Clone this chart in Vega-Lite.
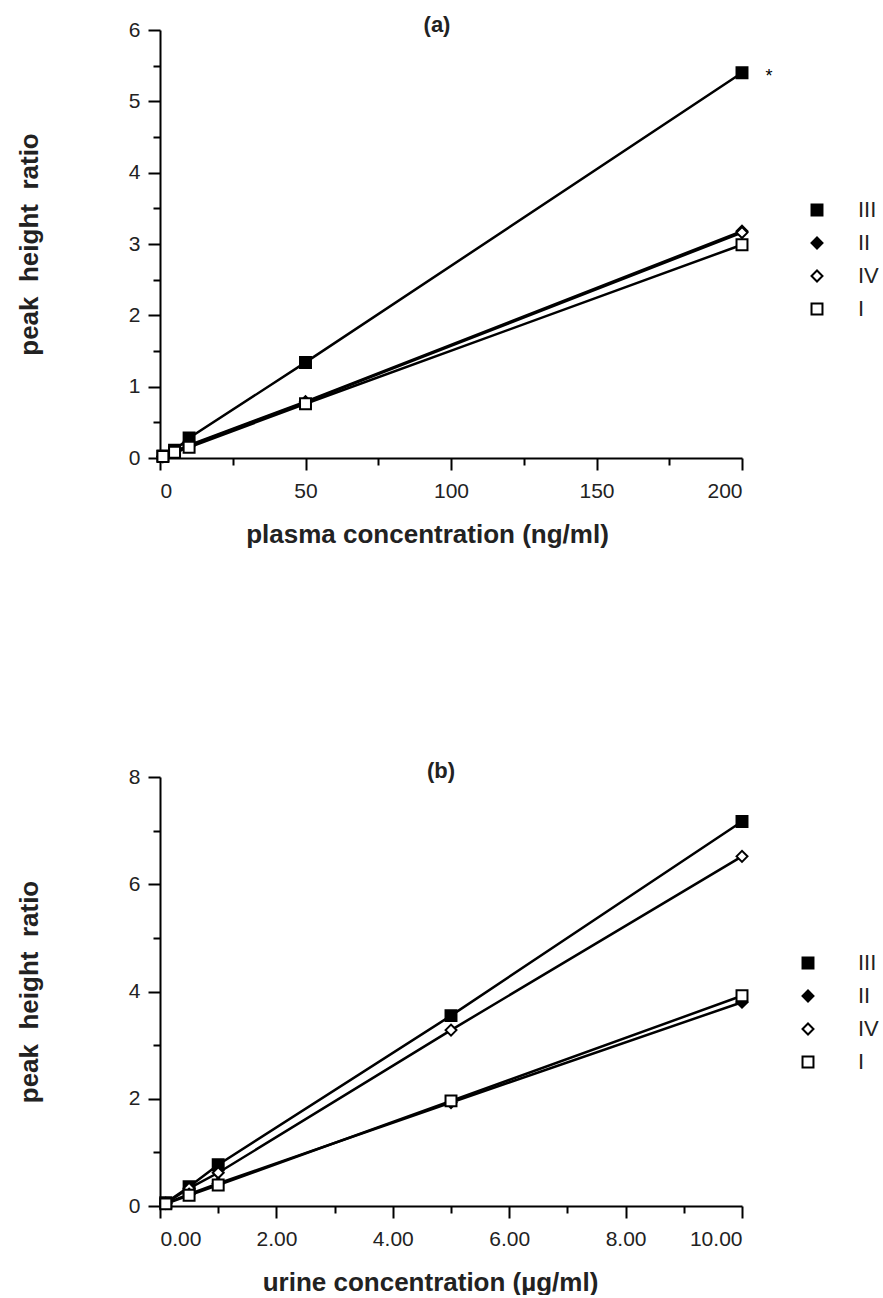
{
  "$schema": "https://vega.github.io/schema/vega-lite/v6.json",
  "background": "white",
  "padding": {"left": 16, "top": 14, "right": 0, "bottom": 0},
  "datasets": {
    "a": [
      {"conc": 1, "ratio": 0.03, "series": "III"},
      {"conc": 5, "ratio": 0.11, "series": "III"},
      {"conc": 10, "ratio": 0.28, "series": "III"},
      {"conc": 50, "ratio": 1.34, "series": "III"},
      {"conc": 200, "ratio": 5.40, "series": "III"},
      {"conc": 1, "ratio": 0.02, "series": "II"},
      {"conc": 5, "ratio": 0.09, "series": "II"},
      {"conc": 10, "ratio": 0.18, "series": "II"},
      {"conc": 50, "ratio": 0.79, "series": "II"},
      {"conc": 200, "ratio": 3.18, "series": "II"},
      {"conc": 1, "ratio": 0.02, "series": "IV"},
      {"conc": 5, "ratio": 0.09, "series": "IV"},
      {"conc": 10, "ratio": 0.17, "series": "IV"},
      {"conc": 50, "ratio": 0.78, "series": "IV"},
      {"conc": 200, "ratio": 3.16, "series": "IV"},
      {"conc": 1, "ratio": 0.02, "series": "I"},
      {"conc": 5, "ratio": 0.08, "series": "I"},
      {"conc": 10, "ratio": 0.15, "series": "I"},
      {"conc": 50, "ratio": 0.76, "series": "I"},
      {"conc": 200, "ratio": 2.99, "series": "I"}
    ],
    "b": [
      {"conc": 0.1, "ratio": 0.06, "series": "III"},
      {"conc": 0.5, "ratio": 0.36, "series": "III"},
      {"conc": 1, "ratio": 0.77, "series": "III"},
      {"conc": 5, "ratio": 3.55, "series": "III"},
      {"conc": 10, "ratio": 7.17, "series": "III"},
      {"conc": 0.1, "ratio": 0.05, "series": "IV"},
      {"conc": 0.5, "ratio": 0.33, "series": "IV"},
      {"conc": 1, "ratio": 0.62, "series": "IV"},
      {"conc": 5, "ratio": 3.28, "series": "IV"},
      {"conc": 10, "ratio": 6.52, "series": "IV"},
      {"conc": 0.1, "ratio": 0.05, "series": "II"},
      {"conc": 0.5, "ratio": 0.22, "series": "II"},
      {"conc": 1, "ratio": 0.42, "series": "II"},
      {"conc": 5, "ratio": 1.93, "series": "II"},
      {"conc": 10, "ratio": 3.80, "series": "II"},
      {"conc": 0.1, "ratio": 0.04, "series": "I"},
      {"conc": 0.5, "ratio": 0.20, "series": "I"},
      {"conc": 1, "ratio": 0.39, "series": "I"},
      {"conc": 5, "ratio": 1.96, "series": "I"},
      {"conc": 10, "ratio": 3.92, "series": "I"}
    ],
    "star": [{"conc": 200, "ratio": 5.40, "label": "*"}]
  },
  "vconcat": [
    {
      "title": {"text": "(a)", "fontSize": 22, "font": "Liberation Sans", "fontWeight": "bold", "color": "#222", "dx": -14, "offset": -18},
      "width": 582,
      "height": 428,
      "layer": [
        {
          "data": {"name": "a"},
          "mark": {"type": "line", "color": "black", "strokeWidth": 2.5},
          "encoding": {
            "x": {"field": "conc", "type": "quantitative", "scale": {"domain": [0, 200]},
                  "axis": {"orient": "bottom", "values": [0, 50, 100, 150, 200], "title": "plasma concentration (ng/ml)", "titleX": 267}},
            "y": {"field": "ratio", "type": "quantitative", "scale": {"domain": [0, 6]},
                  "axis": {"orient": "left", "values": [0, 1, 2, 3, 4, 5, 6], "title": "peak\u00a0\u00a0height\u00a0\u00a0ratio"}},
            "detail": {"field": "series"}
          }
        },
        {
          "data": {"name": "a"},
          "mark": {"type": "point", "strokeWidth": 2, "size": 120, "opacity": 1, "fillOpacity": 1},
          "encoding": {
            "x": {"field": "conc", "type": "quantitative",
                  "axis": {"orient": "bottom", "values": [25, 75, 125, 175], "labels": false, "domain": false, "tickSize": 7, "title": null}},
            "y": {"field": "ratio", "type": "quantitative",
                  "axis": {"orient": "left", "values": [0.5, 1.5, 2.5, 3.5, 4.5, 5.5], "labels": false, "domain": false, "tickSize": 7, "title": null}},
            "shape": {"field": "series", "type": "nominal",
                      "scale": {"domain": ["III", "II", "IV", "I"], "range": ["square", "diamond", "diamond", "square"]},
                      "legend": {"title": null, "orient": "none", "legendX": 646, "legendY": 169, "labelOffset": 30, "rowPadding": 11, "padding": 0}},
            "fill": {"field": "series", "type": "nominal",
                     "scale": {"domain": ["III", "II", "IV", "I"], "range": ["black", "black", "white", "white"]},
                     "legend": {"title": null, "orient": "none", "legendX": 646, "legendY": 169, "labelOffset": 30, "rowPadding": 11, "padding": 0}},
            "stroke": {"field": "series", "type": "nominal",
                     "scale": {"domain": ["III", "II", "IV", "I"], "range": ["black", "black", "black", "black"]},
                     "legend": {"title": null, "orient": "none", "legendX": 646, "legendY": 169, "labelOffset": 30, "rowPadding": 11, "padding": 0}}
          }
        },
        {
          "data": {"name": "star"},
          "mark": {"type": "text", "dx": 27, "dy": 4, "fontSize": 18, "font": "Liberation Sans", "color": "black"},
          "encoding": {
            "x": {"field": "conc", "type": "quantitative", "axis": null},
            "y": {"field": "ratio", "type": "quantitative", "axis": null},
            "text": {"field": "label"}
          }
        }
      ],
      "resolve": {"axis": {"x": "independent", "y": "independent"}}
    },
    {
      "title": {"text": "(b)", "fontSize": 22, "font": "Liberation Sans", "fontWeight": "bold", "color": "#222", "dx": -10, "offset": -17},
      "width": 582,
      "height": 429,
      "layer": [
        {
          "data": {"name": "b"},
          "mark": {"type": "line", "color": "black", "strokeWidth": 2.5},
          "encoding": {
            "x": {"field": "conc", "type": "quantitative", "scale": {"domain": [0, 10]},
                  "axis": {"orient": "bottom", "values": [0, 2, 4, 6, 8, 10], "format": ".2f", "title": "urine concentration (\u00b5g/ml)", "titleX": 270}},
            "y": {"field": "ratio", "type": "quantitative", "scale": {"domain": [0, 8]},
                  "axis": {"orient": "left", "values": [0, 2, 4, 6, 8], "title": "peak\u00a0\u00a0height\u00a0\u00a0ratio"}},
            "detail": {"field": "series"}
          }
        },
        {
          "data": {"name": "b"},
          "mark": {"type": "point", "strokeWidth": 2, "size": 120, "opacity": 1, "fillOpacity": 1},
          "encoding": {
            "x": {"field": "conc", "type": "quantitative",
                  "axis": {"orient": "bottom", "values": [1, 3, 5, 7, 9], "labels": false, "domain": false, "tickSize": 7, "title": null}},
            "y": {"field": "ratio", "type": "quantitative",
                  "axis": {"orient": "left", "values": [1, 3, 5, 7], "labels": false, "domain": false, "tickSize": 7, "title": null}},
            "shape": {"field": "series", "type": "nominal",
                      "scale": {"domain": ["III", "II", "IV", "I"], "range": ["square", "diamond", "diamond", "square"]},
                      "legend": {"title": null, "orient": "none", "legendX": 637, "legendY": 175, "labelOffset": 39, "rowPadding": 11, "padding": 0}},
            "fill": {"field": "series", "type": "nominal",
                     "scale": {"domain": ["III", "II", "IV", "I"], "range": ["black", "black", "white", "white"]},
                     "legend": {"title": null, "orient": "none", "legendX": 637, "legendY": 175, "labelOffset": 39, "rowPadding": 11, "padding": 0}},
            "stroke": {"field": "series", "type": "nominal",
                     "scale": {"domain": ["III", "II", "IV", "I"], "range": ["black", "black", "black", "black"]},
                     "legend": {"title": null, "orient": "none", "legendX": 637, "legendY": 175, "labelOffset": 39, "rowPadding": 11, "padding": 0}}
          }
        }
      ],
      "resolve": {"axis": {"x": "independent", "y": "independent"}}
    }
  ],
  "spacing": 213,
  "resolve": {"scale": {"shape": "independent", "fill": "independent", "stroke": "independent"}, "legend": {"shape": "independent", "fill": "independent", "stroke": "independent"}},
  "config": {
    "view": {"stroke": null},
    "axis": {
      "grid": false,
      "domainColor": "black",
      "domainWidth": 2,
      "tickColor": "black",
      "tickWidth": 2,
      "tickSize": 12,
      "labelFont": "Liberation Sans",
      "labelFontSize": 21,
      "labelColor": "#222",
      "labelPadding": 8,
      "titleFont": "Liberation Sans",
      "titleFontSize": 26,
      "titleFontWeight": "bold",
      "titleColor": "#222"
    },
    "axisY": {"titlePadding": 86},
    "axisX": {"titlePadding": 20, "labelPadding": 10},
    "legend": {
      "labelFont": "Liberation Sans",
      "labelFontSize": 22,
      "labelColor": "#222",
      "symbolSize": 120,
      "symbolStrokeWidth": 2,
      "symbolOpacity": 1
    }
  }
}
